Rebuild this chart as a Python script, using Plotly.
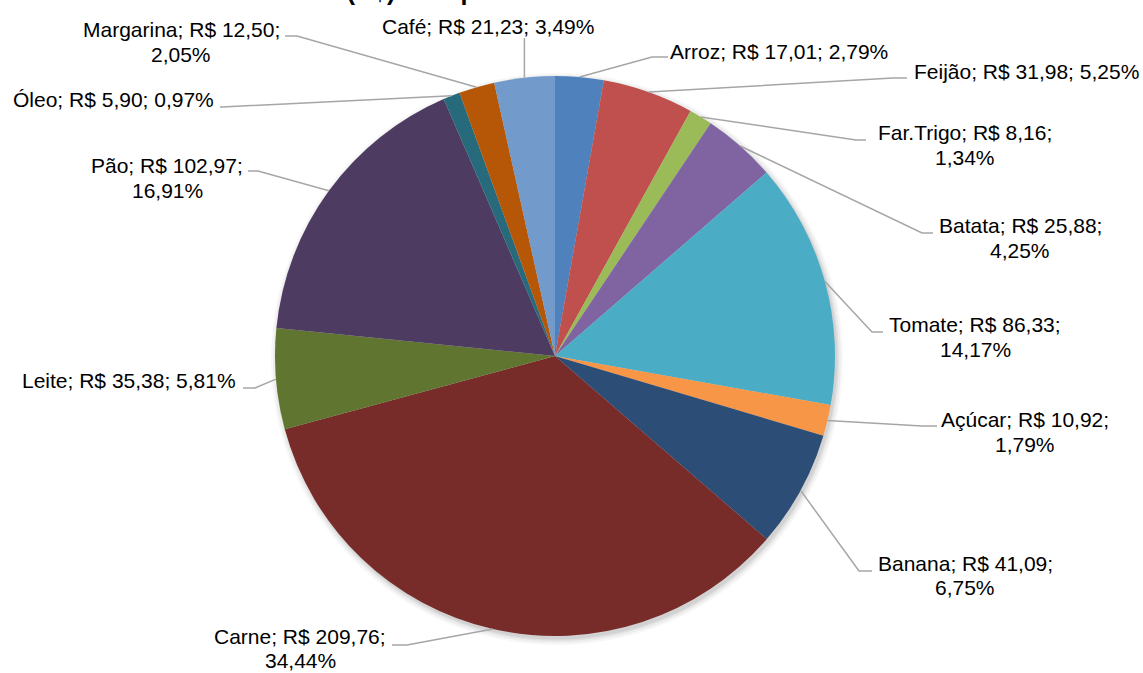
import math
import plotly.graph_objects as go

# ---------------- data ----------------
categories = ["Arroz", "Feijão", "Far.Trigo", "Batata", "Tomate", "Açúcar", "Banana",
              "Carne", "Leite", "Pão", "Óleo", "Margarina", "Café"]
values = [17.01, 31.98, 8.16, 25.88, 86.33, 10.92, 41.09,
          209.76, 35.38, 102.97, 5.90, 12.50, 21.23]
percent_labels = ["2,79%", "5,25%", "1,34%", "4,25%", "14,17%", "1,79%", "6,75%",
                  "34,44%", "5,81%", "16,91%", "0,97%", "2,05%", "3,49%"]
two_line = ["Far.Trigo", "Batata", "Tomate", "Açúcar", "Banana", "Carne", "Pão", "Margarina"]
title_text = "Gastos (R$) com produtos da cesta básica"

# ---------------- style ----------------
colors = ["#4F81BD", "#C0504D", "#9BBB59", "#8064A2", "#4BACC6", "#F79646", "#2C4D75",
          "#772C2A", "#5F7530", "#4D3B62", "#276A7C", "#B65708", "#729ACA"]
W, H = 1143, 673
CX, CY, R = 555, 356, 280
FONT = "Liberation Sans, Arial, sans-serif"
FS = 21
LINE_GAP = 24.5
LEADER = "#A6A6A6"

# label layout (pixel space): text center x, first-line y, leader start (x1, x2, y)
label_pos = {
    "Arroz":     (779, 51.5, (668, 652, 57)),
    "Feijão":    (1026, 72, (907, 893, 78)),
    "Far.Trigo": (965, 132.5, (866, 856, 140)),
    "Batata":    (1020, 225.5, (933, 922, 233)),
    "Tomate":    (975, 324.5, (883, 872, 332)),
    "Açúcar":    (1025, 419.5, (937, 922, 426)),
    "Banana":    (965, 563, (872, 859, 571)),
    "Carne":     (300, 636, (392, 407, 645)),
    "Leite":     (129, 380.5, (243, 255, 388)),
    "Pão":       (167, 165.5, (248, 258, 171)),
    "Óleo":      (113, 99.5, (220, 222, 107)),
    "Margarina": (181, 30, (285, 297, 36)),
    "Café":      (488, 27, None),
}


def px(x):
    return x / W


def py(y):
    return 1 - y / H


def fmt(v):
    return f"{v:.2f}".replace(".", ",")


total = sum(values)

fig = go.Figure(go.Pie(
    labels=categories,
    values=values,
    sort=False,
    direction="clockwise",
    rotation=0,
    textinfo="none",
    marker=dict(colors=colors, line=dict(width=0)),
    domain=dict(x=[px(CX - R), px(CX + R)], y=[py(CY + R), py(CY - R)]),
    showlegend=False,
    hoverinfo="label+value+percent",
))

annotations = []
shapes = []

# soft shadow
for dr, op in [(6, 0.03), (4, 0.04), (2, 0.05), (0.5, 0.06)]:
    ox, oy = 2, 3
    shapes.append(dict(type="circle", xref="paper", yref="paper", layer="below",
                       x0=px(CX + ox - R - dr), x1=px(CX + ox + R + dr),
                       y0=py(CY + oy + R + dr), y1=py(CY + oy - R - dr),
                       fillcolor=f"rgba(0,0,0,{op})", line=dict(width=0)))

cum = 0.0
for name, v, pct in zip(categories, values, percent_labels):
    mid = (cum + v / 2) / total
    cum += v
    ang = 2 * math.pi * mid
    ex = CX + R * math.sin(ang)
    ey = CY - R * math.cos(ang)
    tx, ty, lead = label_pos[name]
    if name in two_line:
        lines = [f"{name}; R$ {fmt(v)};", pct]
    else:
        lines = [f"{name}; R$ {fmt(v)}; {pct}"]
    for k, t in enumerate(lines):
        annotations.append(dict(x=px(tx), y=py(ty + k * LINE_GAP), xref="paper", yref="paper",
                                text=t, showarrow=False, xanchor="center", yanchor="middle",
                                font=dict(family=FONT, size=FS, color="#000000")))
    if lead is None:
        path = f"M {px(ex)} {py(38)} L {px(ex)} {py(ey)}"
    else:
        x1, x2, ly = lead
        path = f"M {px(x1)} {py(ly)} L {px(x2)} {py(ly)} L {px(ex)} {py(ey)}"
    shapes.append(dict(type="path", xref="paper", yref="paper", path=path,
                       line=dict(color=LEADER, width=1.5), layer="above"))

# title (mostly above the visible area, as in the reference)
annotations.append(dict(x=px(253), y=py(7), xref="paper", yref="paper", text=f"<b>{title_text}</b>",
                        showarrow=False, xanchor="left", yanchor="bottom",
                        font=dict(family=FONT, size=25, color="#000000")))

fig.update_layout(
    width=W, height=H,
    margin=dict(l=0, r=0, t=0, b=0),
    paper_bgcolor="#FFFFFF",
    plot_bgcolor="#FFFFFF",
    annotations=annotations,
    shapes=shapes,
)

fig.write_html("out.html", config={"displayModeBar": False},
               post_script="document.body.style.margin='0';document.body.style.overflow='hidden';")
